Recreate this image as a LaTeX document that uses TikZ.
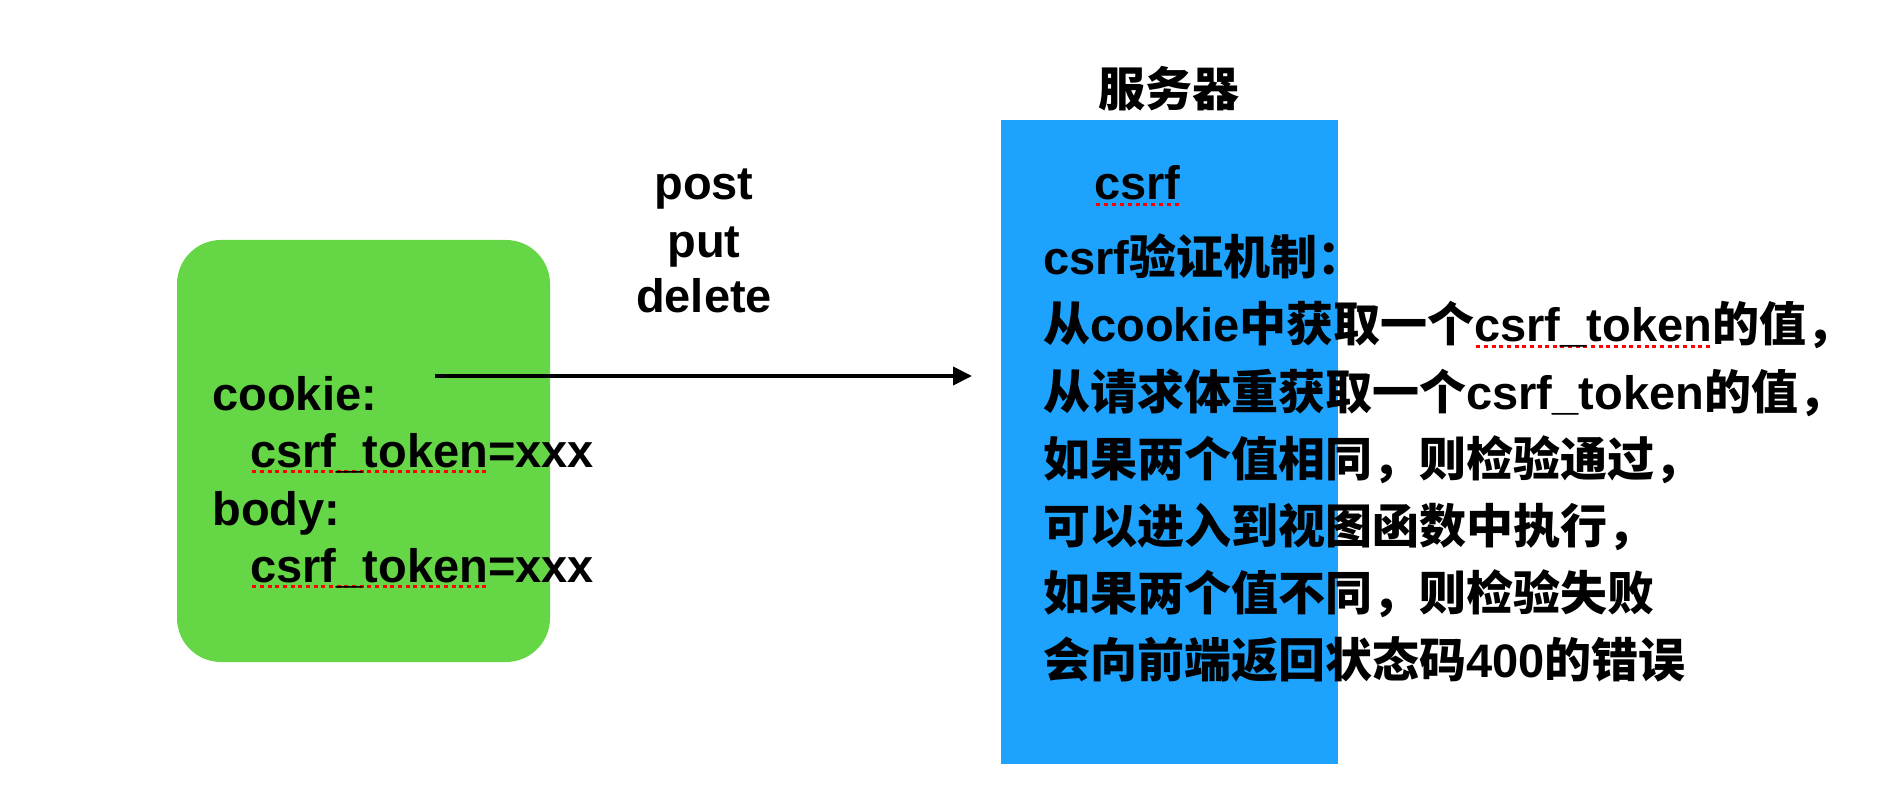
\documentclass[tikz,border=0pt]{standalone}
\usepackage{fontspec}
\setmainfont{Liberation Sans}
\newfontfamily\zhfont{Noto Sans CJK SC}
\usetikzlibrary{arrows.meta}
\definecolor{clientgreen}{RGB}{101,214,69}
\definecolor{serverblue}{RGB}{29,163,254}
\newcommand\zh[1]{{\zhfont\bfseries #1}}
\newsavebox\markbox
\newcommand\redmark[1]{\sbox\markbox{#1}\rlap{\color{red}\raisebox{-3pt}{\hbox to \wd\markbox{\xleaders\hbox to 3.8pt{\hss\rule{2pt}{1.3pt}\hss}\hfill}}}\usebox\markbox}
\tikzset{
  clientbox/.style={fill=clientgreen, rounded corners=22pt, minimum width=186.5pt, minimum height=211pt, inner sep=0pt},
  serverbox/.style={fill=serverblue, minimum width=168.5pt, minimum height=322pt, inner sep=0pt},
  msg/.style={font=\bfseries\fontsize{23.5}{28}\selectfont, inner sep=0pt, anchor=base west},
  method/.style={font=\bfseries\fontsize{23.5}{28}\selectfont, inner sep=0pt, anchor=base},
  reqarrow/.style={line width=2pt, -{Triangle[length=9.5pt,width=9pt]}}
}
\begin{document}
\begin{tikzpicture}[x=0.5pt,y=-0.5pt]
  \useasboundingbox (0,0) rectangle (1890,802);
  % client
  \node (client) [clientbox] at (363.5,451) {};
  \node (cookie) [msg] at (212,410) {cookie:};
  \node (cookietoken) [msg] at (250,467) {\redmark{csrf\_token}=xxx};
  \node (body) [msg] at (212,525) {body:};
  \node (bodytoken) [msg] at (250,582) {\redmark{csrf\_token}=xxx};
  % request
  \coordinate (reqstart) at (435,376);
  \coordinate (reqend) at (972,376);
  \draw[reqarrow] (reqstart) -- (reqend);
  \node (post) [method] at (704,200) {post};
  \node (put) [method] at (704,257) {put};
  \node (delete) [method] at (704,313) {delete};
  % server
  \node (server) [serverbox] at (1169.5,442) {};
  \node (servertitle) [method] at (1169,107) {\zh{服务器}};
  \node (csrf) [msg] at (1094,200) {\redmark{csrf}};
  \node (rule0) [msg] at (1043,275) {csrf\zh{验证机制：}};
  \node (rule1) [msg] at (1043,342) {\zh{从}cookie\zh{中获取一个}\redmark{csrf\_token}\zh{的值，}};
  \node (rule2) [msg] at (1043,409) {\zh{从请求体重获取一个}csrf\_token\zh{的值，}};
  \node (rule3) [msg] at (1043,476) {\zh{如果两个值相同，则检验通过，}};
  \node (rule4) [msg] at (1043,543) {\zh{可以进入到视图函数中执行，}};
  \node (rule5) [msg] at (1043,610) {\zh{如果两个值不同，则检验失败}};
  \node (rule6) [msg] at (1043,677) {\zh{会向前端返回状态码}400\zh{的错误}};
\end{tikzpicture}
\end{document}
